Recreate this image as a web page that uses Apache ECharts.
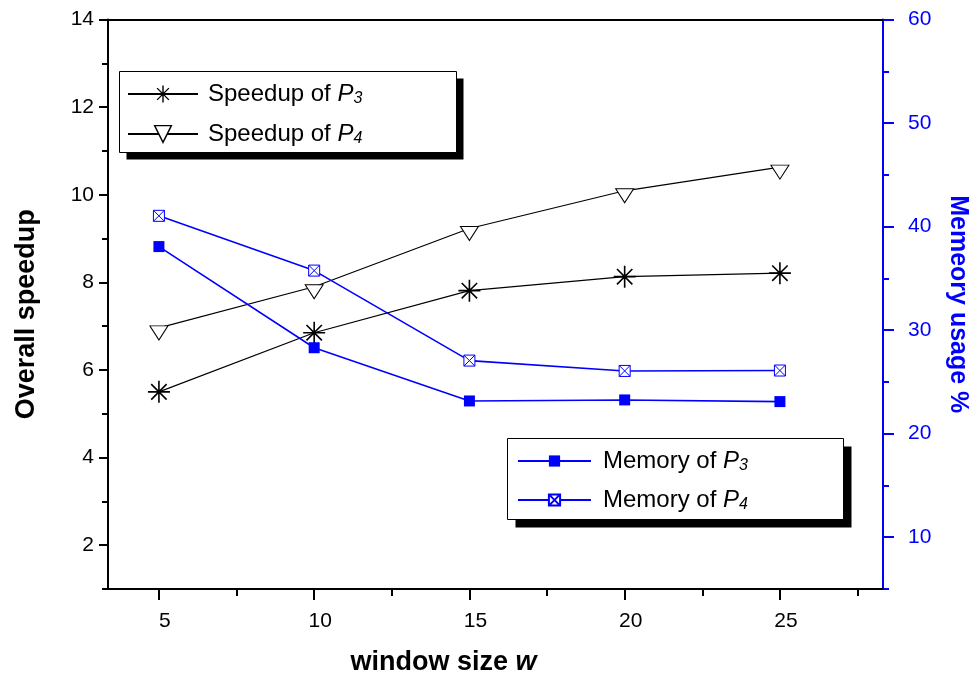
<!DOCTYPE html>
<html>
<head>
<meta charset="utf-8">
<script src="https://cdn.jsdelivr.net/npm/echarts@6/dist/echarts.min.js"></script>
<style>
html, body { margin: 0; padding: 0; background: #fff; }
#main { width: 979px; height: 677px; }
</style>
</head>
<body>
<div id="main"></div>
<script>
// window size w
var windowSizes = [5, 10, 15, 20, 25];
// overall speedup (left axis)
var speedupP3 = [5.50, 6.85, 7.81, 8.13, 8.21];
var speedupP4 = [6.96, 7.90, 9.23, 10.09, 10.63];
// memory usage % (right axis)
var memoryP3 = [38.07, 28.3, 23.16, 23.26, 23.1];
var memoryP4 = [41.04, 35.75, 27.06, 26.06, 26.1];

var xTicks = [5, 10, 15, 20, 25];
var xMinorTicks = [7.5, 12.5, 17.5, 22.5, 27.5];
var speedupTicks = [2, 4, 6, 8, 10, 12, 14];
var speedupMinorTicks = [1, 3, 5, 7, 9, 11, 13];
var memoryTicks = [10, 20, 30, 40, 50, 60];
var memoryMinorTicks = [5, 15, 25, 35, 45, 55];

var FONT = "'Liberation Sans', Arial, sans-serif";
var BLUE = '#0000ff';
var X_MIN = 3.36, X_MAX = 28.32;

var asterisk = 'path://M0,10L20,10M10,0L10,20M3,3L17,17M17,3L3,17M9.5,10L10.5,10';
var triDown = 'path://M0,0L20,0L10,15Z';
var crossBox = 'path://M0,0L10,0L10,10L0,10ZM0,0L10,10M10,0L0,10';

function pairs(xs, ys) {
	var out = [];
	xs.forEach(function (x, i) { out.push([x, ys[i]]); });
	return out;
}

function legendText(name) {
	var m = name.match(/^(.*)P(\d)$/);
	return m[1] + '{i|P}{s|' + m[2] + '}';
}
var legendRich = {
	i: { fontFamily: FONT, fontSize: 24, fontStyle: 'italic', lineHeight: 30, color: '#000' },
	s: { fontFamily: FONT, fontSize: 16, fontStyle: 'italic', padding: [10, 0, 0, 0], color: '#000' }
};

var option = {
	animation: false,
	backgroundColor: '#fff',
	grid: { left: 108, right: 96, top: 19.5, bottom: 88, outerBoundsMode: 'none' },
	graphic: [
		{ type: 'rect', z: 3, shape: { x: 126.5, y: 78.5, width: 337, height: 81 }, style: { fill: '#000' } },
		{ type: 'rect', z: 3, shape: { x: 119.5, y: 71.5, width: 337, height: 81 }, style: { fill: '#fff', stroke: '#000', lineWidth: 1 } },
		{ type: 'rect', z: 3, shape: { x: 515.5, y: 446.5, width: 336, height: 81 }, style: { fill: '#000' } },
		{ type: 'rect', z: 3, shape: { x: 507.5, y: 438.5, width: 336, height: 81 }, style: { fill: '#fff', stroke: '#000', lineWidth: 1 } }
	],
	legend: [{
		data: ['Speedup of P3', 'Speedup of P4'],
		orient: 'vertical',
		left: 127,
		top: 79,
		padding: 0,
		itemWidth: 70,
		itemHeight: 21,
		itemGap: 10,
		z: 5,
		formatter: legendText,
		itemStyle: { borderWidth: 1.4 },
		textStyle: { fontFamily: FONT, fontSize: 24, lineHeight: 30, color: '#000', padding: [0, 0, 0, 5], rich: legendRich }
	}, {
		data: ['Memory of P3', 'Memory of P4'],
		orient: 'vertical',
		left: 517,
		top: 446,
		padding: 0,
		itemWidth: 73,
		itemHeight: 14,
		itemGap: 9,
		z: 5,
		formatter: legendText,
		textStyle: { fontFamily: FONT, fontSize: 24, lineHeight: 30, color: '#000', padding: [0, 0, 0, 7], rich: legendRich }
	}],
	xAxis: [{
		type: 'value',
		position: 'bottom',
		min: X_MIN,
		max: X_MAX,
		name: '{a|window size }{b|w}',
		nameLocation: 'middle',
		nameGap: 60,
		nameTextStyle: {
			padding: [0, 104, 0, 0],
			rich: {
				a: { fontFamily: FONT, fontSize: 27, fontWeight: 'bold', color: '#000' },
				b: { fontFamily: FONT, fontSize: 27, fontWeight: 'bold', fontStyle: 'italic', color: '#000' }
			}
		},
		axisLine: { onZero: false, lineStyle: { color: '#000', width: 2 } },
		axisTick: { show: true, customValues: xTicks, length: 11, lineStyle: { color: '#000', width: 2 } },
		axisLabel: { customValues: xTicks, margin: 22, padding: [0, 0, 0, 12], fontFamily: FONT, fontSize: 21, color: '#000' },
		splitLine: { show: false }
	}, {
		type: 'value',
		position: 'bottom',
		min: X_MIN,
		max: X_MAX,
		axisLine: { show: false },
		axisTick: { show: true, customValues: xMinorTicks, length: 7, lineStyle: { color: '#000', width: 2 } },
		axisLabel: { show: false },
		splitLine: { show: false }
	}, {
		type: 'value',
		position: 'top',
		min: X_MIN,
		max: X_MAX,
		axisLine: { onZero: false, lineStyle: { color: '#000', width: 2 } },
		axisTick: { show: false },
		axisLabel: { show: false },
		splitLine: { show: false }
	}],
	yAxis: [{
		type: 'value',
		position: 'left',
		min: 1,
		max: 14,
		name: 'Overall speedup',
		nameLocation: 'middle',
		nameRotate: 90,
		nameGap: 68,
		nameTextStyle: { fontFamily: FONT, fontSize: 27, fontWeight: 'bold', color: '#000', padding: [0, 20, 0, 0] },
		axisLine: { show: true, onZero: false, lineStyle: { color: '#000', width: 2 } },
		axisTick: { show: true, customValues: speedupTicks, length: 9, lineStyle: { color: '#000', width: 2 } },
		axisLabel: { customValues: speedupTicks, margin: 14, fontFamily: FONT, fontSize: 21, color: '#000' },
		splitLine: { show: false }
	}, {
		type: 'value',
		position: 'left',
		min: 1,
		max: 14,
		axisLine: { show: false },
		axisTick: { show: true, customValues: speedupMinorTicks, length: 6, lineStyle: { color: '#000', width: 2 } },
		axisLabel: { show: false },
		splitLine: { show: false }
	}, {
		type: 'value',
		position: 'right',
		min: 5,
		max: 60,
		name: 'Memeory usage %',
		nameLocation: 'middle',
		nameRotate: -90,
		nameGap: 62,
		nameTextStyle: { fontFamily: FONT, fontSize: 25, fontWeight: 'bold', color: BLUE },
		axisLine: { show: true, onZero: false, lineStyle: { color: BLUE, width: 2 } },
		axisTick: { show: true, customValues: memoryTicks, length: 11, lineStyle: { color: BLUE, width: 2 } },
		axisLabel: { customValues: memoryTicks, margin: 25, fontFamily: FONT, fontSize: 21, color: BLUE },
		splitLine: { show: false }
	}, {
		type: 'value',
		position: 'right',
		min: 5,
		max: 60,
		axisLine: { show: false },
		axisTick: { show: true, customValues: memoryMinorTicks, length: 6, lineStyle: { color: BLUE, width: 2 } },
		axisLabel: { show: false },
		splitLine: { show: false }
	}],
	series: [{
		name: 'Speedup of P3',
		type: 'line',
		yAxisIndex: 0,
		data: pairs(windowSizes, speedupP3),
		symbol: asterisk,
		symbolSize: 22,
		itemStyle: { color: '#000', borderColor: '#000', borderWidth: 1.6 },
		lineStyle: { color: '#000', width: 1.2 },
		z: 3
	}, {
		name: 'Speedup of P4',
		type: 'line',
		yAxisIndex: 0,
		data: pairs(windowSizes, speedupP4),
		symbol: triDown,
		symbolSize: [18, 14],
		symbolOffset: [0, 5],
		itemStyle: { color: '#fff', borderColor: '#000', borderWidth: 1 },
		lineStyle: { color: '#000', width: 1.2 },
		z: 3
	}, {
		name: 'Memory of P3',
		type: 'line',
		yAxisIndex: 2,
		data: pairs(windowSizes, memoryP3),
		symbol: 'rect',
		symbolSize: 11,
		itemStyle: { color: BLUE },
		lineStyle: { color: BLUE, width: 1.6 },
		z: 3
	}, {
		name: 'Memory of P4',
		type: 'line',
		yAxisIndex: 2,
		data: pairs(windowSizes, memoryP4),
		symbol: crossBox,
		symbolSize: 11,
		itemStyle: { color: '#fff', borderColor: BLUE, borderWidth: 1 },
		lineStyle: { color: BLUE, width: 1.6 },
		z: 3
	}]
};

var chart = echarts.init(document.getElementById('main'), null, { renderer: 'canvas' });
chart.setOption(option);
</script>
</body>
</html>
